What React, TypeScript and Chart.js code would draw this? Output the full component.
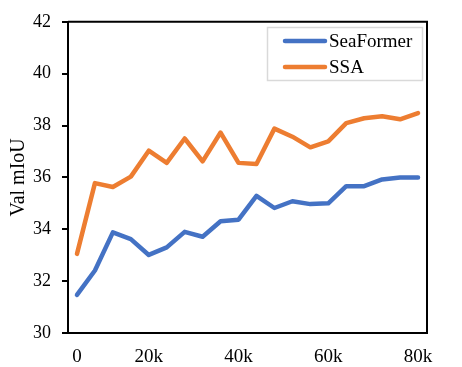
import React, { useEffect, useRef } from "react";
import { Chart, registerables } from "chart.js";

Chart.register(...registerables);

const xTickLabels = [
  "0", "", "", "", "20k", "", "", "", "", "40k",
  "", "", "", "", "60k", "", "", "", "", "80k",
];
const seaFormer = [
  31.47, 32.41, 33.88, 33.62, 33.01, 33.3, 33.9, 33.71, 34.31, 34.37,
  35.29, 34.82, 35.08, 34.97, 35.0, 35.66, 35.66, 35.92, 36.0, 36.0,
];
const ssa = [
  33.05, 35.78, 35.63, 36.03, 37.03, 36.56, 37.5, 36.62, 37.73, 36.56,
  36.52, 37.88, 37.57, 37.16, 37.39, 38.09, 38.28, 38.36, 38.24, 38.48,
];
const yTicks = [30, 32, 34, 36, 38, 40, 42];

const FONT = "'Liberation Serif', 'Times New Roman', serif";
const BLUE = "#4472C4";
const ORANGE = "#ED7D31";

const framePlugin = {
  id: "frameAndLegend",
  afterDatasetsDraw(chart: any) {
    const { ctx, chartArea } = chart;
    ctx.save();
    ctx.strokeStyle = "#000";
    ctx.lineWidth = 2;
    ctx.beginPath();
    ctx.moveTo(chartArea.left, chartArea.top);
    ctx.lineTo(chartArea.right, chartArea.top);
    ctx.lineTo(chartArea.right, chartArea.bottom);
    ctx.stroke();

    const bx = 267.5, by = 27.5, bw = 155, bh = 53;
    ctx.fillStyle = "#fff";
    ctx.fillRect(bx, by, bw, bh);
    ctx.strokeStyle = "#D9D9D9";
    ctx.lineWidth = 1.5;
    ctx.strokeRect(bx, by, bw, bh);
    const rows = [41, 67];
    chart.data.datasets.forEach((ds: any, i: number) => {
      const y = rows[i];
      ctx.strokeStyle = ds.borderColor;
      ctx.lineWidth = 4.5;
      ctx.lineCap = "round";
      ctx.beginPath();
      ctx.moveTo(285, y);
      ctx.lineTo(325, y);
      ctx.stroke();
      ctx.fillStyle = "#000";
      ctx.font = `19px ${FONT}`;
      ctx.textBaseline = "middle";
      ctx.textAlign = "left";
      ctx.fillText(ds.label, 329, y + 1);
    });
    ctx.restore();
  },
};

export default function App() {
  const ref = useRef<HTMLCanvasElement>(null);
  useEffect(() => {
    if (!ref.current) return;
    const chart = new Chart(ref.current, {
      type: "line",
      data: {
        labels: xTickLabels,
        datasets: [
          {
            label: "SeaFormer",
            data: seaFormer,
            borderColor: BLUE,
            backgroundColor: BLUE,
            borderWidth: 4.5,
            pointRadius: 0,
            borderCapStyle: "round",
            borderJoinStyle: "round",
            tension: 0,
          },
          {
            label: "SSA",
            data: ssa,
            borderColor: ORANGE,
            backgroundColor: ORANGE,
            borderWidth: 4.5,
            pointRadius: 0,
            borderCapStyle: "round",
            borderJoinStyle: "round",
            tension: 0,
          },
        ],
      },
      options: {
        animation: false,
        responsive: false,
        maintainAspectRatio: false,
        layout: { padding: { left: 0, top: 21, right: 35, bottom: 0 } },
        plugins: { legend: { display: false }, tooltip: { enabled: false } },
        scales: {
          x: {
            type: "category",
            offset: true,
            grid: { display: false, drawTicks: false },
            border: { display: true, color: "#000", width: 2 },
            ticks: {
              autoSkip: false,
              maxRotation: 0,
              padding: 13,
              color: "#000",
              font: { family: FONT, size: 19 },
            },
            afterFit: (s: any) => {
              s.height = 34;
            },
          },
          y: {
            min: 30,
            max: 42,
            afterBuildTicks: (s: any) => {
              s.ticks = yTicks.map((v) => ({ value: v }));
            },
            grid: {
              display: true,
              drawOnChartArea: false,
              drawTicks: true,
              tickLength: 6,
              color: "#000",
              lineWidth: 2,
            },
            border: { display: true, color: "#000", width: 2 },
            ticks: {
              padding: 11,
              color: "#000",
              font: { family: FONT, size: 18 },
            },
            title: {
              display: true,
              text: "Val mIoU",
              color: "#000",
              font: { family: FONT, size: 20 },
              padding: { top: 7, bottom: 0 },
            },
            afterFit: (s: any) => {
              s.width = 68;
            },
          },
        },
      },
      plugins: [framePlugin],
    });
    return () => chart.destroy();
  }, []);
  return (
    <div style={{ position: "fixed", left: 0, top: 0, width: 462, height: 367, background: "#fff" }}>
      <canvas ref={ref} width={462} height={367} style={{ display: "block" }} />
    </div>
  );
}
